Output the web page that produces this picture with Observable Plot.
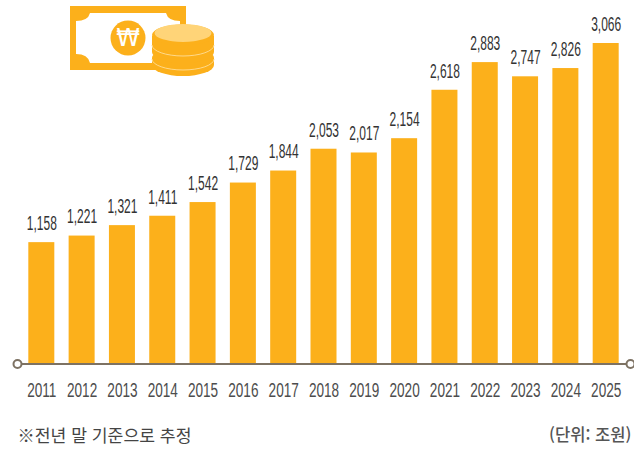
<!DOCTYPE html>
<html lang="ko"><head><meta charset="utf-8">
<style>
html,body{margin:0;padding:0;background:#fff;overflow:hidden}
#wrap{position:relative;width:634px;height:452px}
#wrap svg.plot{position:absolute;left:0;top:0}
#icon{position:absolute;left:0;top:0;pointer-events:none}
</style>
<script src="https://cdn.jsdelivr.net/npm/d3@7"></script>
<script src="https://cdn.jsdelivr.net/npm/@observablehq/plot@0.6"></script>
</head><body>
<div id="wrap">
<svg id="icon" width="634" height="100" viewBox="0 0 634 100">
  <rect x="70" y="6" width="116" height="64" fill="#FCB01B"/>
  <path d="M90 13 H166 Q168 21 180 21 V57 Q168 54 166 63 H90 Q88 54 76 54 V21 Q88 21 90 13 Z" fill="#fff"/>
  <circle cx="128" cy="38" r="17.5" fill="#FCB01B"/>
  <text x="128" y="46" text-anchor="middle" font-family="DejaVu Sans" font-weight="400" font-size="24" fill="#fff">₩</text>
  <path d="M152 62 V58 A31 11 0 0 1 214 58 V65 A31 11 0 0 1 152 65 Z" fill="#FCB01B"/>
  <path d="M152 59 A31 11 0 0 0 214 59" fill="none" stroke="#FFD98A" stroke-width="1"/>
  <path d="M152 45 V36 H214 V52 A31 11 0 0 1 152 52 Z" fill="#FCB01B"/>
  <path d="M152 45 A31 11 0 0 0 214 45" fill="none" stroke="#FFD98A" stroke-width="1"/>
  <ellipse cx="183" cy="35" rx="31" ry="10.5" fill="#FCB01B"/>
  <ellipse cx="183" cy="33" rx="28.5" ry="9" fill="#FFD478"/>
</svg>
</div>
<script>
const years = ["2011","2012","2013","2014","2015","2016","2017","2018","2019","2020","2021","2022","2023","2024","2025"];
const values = [1158,1221,1321,1411,1542,1729,1844,2053,2017,2154,2618,2883,2747,2826,3066];
const note = "※전년 말 기준으로 추정";
const unit = "(단위: 조원)";
const rows = years.map((year, i) => ({year, value: values[i]}));

const barColor = "#FCB01B";
const axisColor = "#7D7263";
const krFont = "'Noto Sans CJK KR','Noto Sans',sans-serif";
const narrow = "'Liberation Sans Narrow','Liberation Sans',sans-serif";

const chart = Plot.plot({
  width: 634,
  height: 452,
  marginLeft: 14,
  marginRight: 1,
  marginTop: 43,
  marginBottom: 89,
  style: {background: "transparent", overflow: "visible"},
  x: {domain: years, padding: 0.355, round: false, axis: null},
  y: {domain: [0, 3066], axis: null},
  marks: [
    Plot.barY(rows, {x: "year", y: "value", fill: barColor}),
    Plot.ruleY([0], {stroke: axisColor, strokeWidth: 2, insetLeft: 3, insetRight: 3, dy: 0.5}),
    Plot.dot([0], {y: d => d, frameAnchor: "left", dx: 3, dy: 0.5, r: 4, fill: "#fff", stroke: axisColor, strokeWidth: 2}),
    Plot.dot([0], {y: d => d, frameAnchor: "right", dx: -3, dy: 0.5, r: 4, fill: "#fff", stroke: axisColor, strokeWidth: 2}),
    Plot.text(rows, {x: "year", y: "value", text: d => d3.format(",")(d.value), dy: -19,
      fill: "#333", fontFamily: narrow, fontSize: 20, className: "val"}),
    Plot.text(rows, {x: "year", y: () => 0, text: "year", dy: 27,
      fill: "#4d4d4d", fontFamily: narrow, fontSize: 20, className: "yr"}),
    Plot.text([note], {text: d => d, frameAnchor: "bottom-left", dx: 3, dy: 78,
      fill: "#444", fontFamily: krFont, fontSize: 17.2, textAnchor: "start"}),
    Plot.text([unit], {text: d => d, frameAnchor: "bottom-right", dx: -2, dy: 77,
      fill: "#555", fontFamily: krFont, fontSize: 16.6, fontWeight: 500, textAnchor: "end"})
  ]
});
function squeeze(cls, k) {
  chart.querySelectorAll(`g.${cls} text`).forEach(t => {
    t.setAttribute("transform", `${t.getAttribute("transform") || ""} scale(${k},1)`);
  });
}
squeeze("val", 0.6);
squeeze("yr", 0.68);
document.getElementById("wrap").prepend(chart);
</script>
</body></html>
